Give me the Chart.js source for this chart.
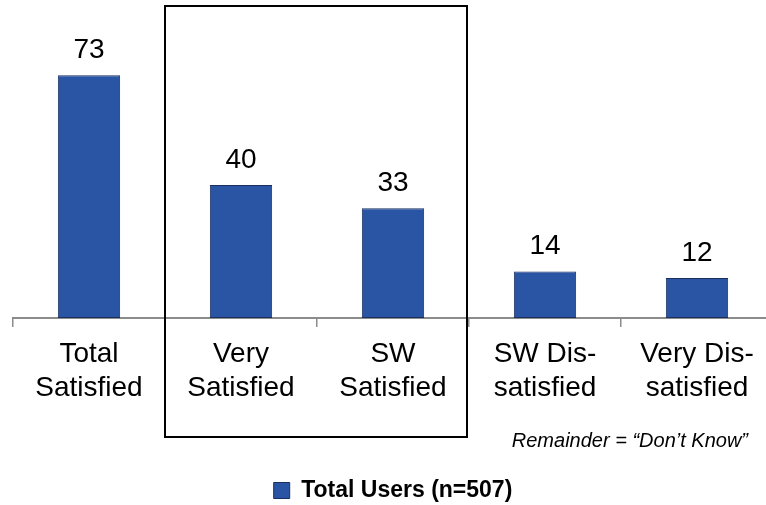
<!DOCTYPE html>
<html>
<head>
<meta charset="utf-8">
<script src="https://cdn.jsdelivr.net/npm/chart.js@4.4.1/dist/chart.umd.min.js"></script>
<style>
  html, body { margin: 0; padding: 0; background: #fff; overflow: hidden; width: 766px; height: 505px; }
  #wrap { position: absolute; left: 0; top: 0; width: 790px; height: 505px; }
</style>
</head>
<body>
<div id="wrap"><canvas id="c" width="790" height="505"></canvas></div>
<script>
const categories = [["Total", "Satisfied"], ["Very", "Satisfied"], ["SW", "Satisfied"], ["SW Dis-", "satisfied"], ["Very Dis-", "satisfied"]];
const seriesName = "Total Users (n=507)";
const values = [73, 40, 33, 14, 12];
const note = "Remainder = \u201CDon\u2019t Know\u201D";
const boxedCategories = [1, 2];

const FONT = "'Liberation Sans', Arial, Helvetica, sans-serif";
const BOTTOM_PAD = -7;

const valueLabels = {
  id: 'valueLabels',
  afterDatasetsDraw(chart) {
    const ctx = chart.ctx;
    const meta = chart.getDatasetMeta(0);
    ctx.save();
    ctx.font = '28px ' + FONT;
    ctx.fillStyle = '#000';
    ctx.textAlign = 'center';
    ctx.textBaseline = 'alphabetic';
    meta.data.forEach((bar, i) => {
      ctx.fillText(String(values[i]), bar.x, bar.y - 17);
    });
    ctx.restore();
  }
};

const boxAndNote = {
  id: 'boxAndNote',
  afterDraw(chart) {
    const ctx = chart.ctx;
    const xs = chart.scales.x;
    const half = (xs.getPixelForValue(1) - xs.getPixelForValue(0)) / 2;
    const left = xs.getPixelForValue(boxedCategories[0]) - half;
    const right = xs.getPixelForValue(boxedCategories[boxedCategories.length - 1]) + half - 2;
    ctx.save();
    ctx.strokeStyle = '#000';
    ctx.lineWidth = 2;
    ctx.strokeRect(left, 6, right - left, 431);
    ctx.font = 'italic 20px ' + FONT;
    ctx.fillStyle = '#000';
    ctx.textAlign = 'right';
    ctx.textBaseline = 'alphabetic';
    ctx.fillText(note, 748, 447);
    ctx.restore();
  }
};

new Chart(document.getElementById('c'), {
  type: 'bar',
  data: {
    labels: categories,
    datasets: [{
      label: seriesName,
      data: values,
      backgroundColor: '#2A55A5',
      borderColor: '#1B2F5E',
      borderWidth: 1,
      borderSkipped: false,
      barPercentage: 0.41,
      categoryPercentage: 1
    }]
  },
  options: {
    responsive: false,
    devicePixelRatio: 1,
    animation: false,
    layout: { padding: { left: 13, right: 17, top: 52, bottom: BOTTOM_PAD } },
    plugins: {
      legend: {
        position: 'bottom',
        labels: {
          color: '#000',
          font: { family: FONT, size: 23, weight: 'bold' },
          boxWidth: 16,
          boxHeight: 16,
          padding: 14
        }
      },
      tooltip: { enabled: false }
    },
    scales: {
      y: { display: false, min: 0, max: 80 },
      x: {
        afterFit(scale) {
          const lg = scale.chart.legend ? scale.chart.legend.height : 0;
          scale.height = 505 - BOTTOM_PAD - 318 - lg;
        },
        border: { display: true, color: '#8c8c8c', width: 2 },
        grid: { display: true, drawOnChartArea: false, offset: true, tickLength: 9, color: '#8c8c8c', lineWidth: 1.5 },
        ticks: {
          color: '#000',
          font: { family: FONT, size: 28, lineHeight: 1.22 },
          padding: 10,
          maxRotation: 0,
          autoSkip: false
        }
      }
    }
  },
  plugins: [valueLabels, boxAndNote]
});
</script>
</body>
</html>
